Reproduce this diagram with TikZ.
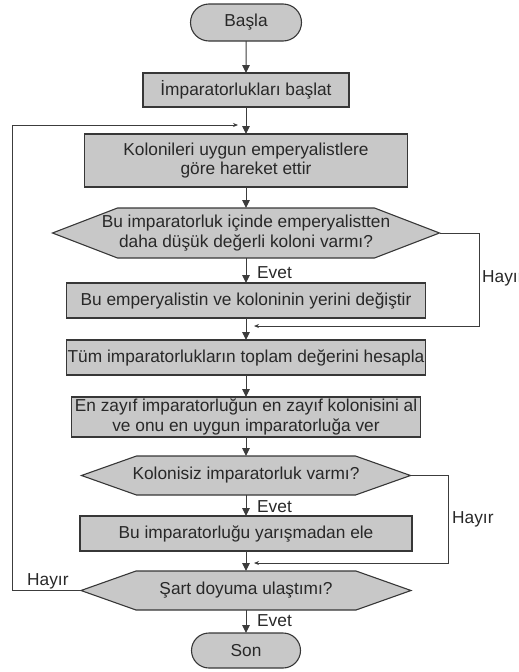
\documentclass[tikz,border=0pt]{standalone}
\usepackage{fontspec}
\setmainfont{Liberation Sans}
\usetikzlibrary{shapes.misc,arrows.meta,backgrounds}
\definecolor{boxfill}{RGB}{200,200,200}
\definecolor{edge}{RGB}{55,55,55}
\definecolor{ink}{RGB}{40,40,40}
\definecolor{wire}{RGB}{60,60,60}
\begin{document}
\begin{tikzpicture}[x=1pt,y=-1pt,
  every node/.style={font=\fontsize{17.3}{19.5}\selectfont, text=ink},
  box/.style={draw=edge, fill=boxfill, line width=1.1pt, inner sep=1pt, align=center, outer sep=0pt},
  term/.style={rounded rectangle, draw=edge, fill=boxfill, line width=1.1pt, inner sep=1pt, outer sep=0pt},
  hexnode/.style={inner sep=1pt, align=center, outer sep=0pt},
  hexshape/.style={draw=edge, fill=boxfill, line width=1.1pt},
  flow/.style={draw=wire, line width=1pt, -{Triangle[length=8pt,width=7.5pt]}},
  back/.style={draw=wire, line width=1pt, -{Stealth[length=5pt,width=4pt]}},
  lbl/.style={anchor=west, inner sep=0pt}
]
\useasboundingbox (0,0) rectangle (519,672);

\node[term, minimum width=113pt, minimum height=37pt] (start) at (246,22.5) {Başla};
\node[box, minimum width=206pt, minimum height=34pt] (b1) at (246,90) {İmparatorlukları başlat};
\node[box, minimum width=323pt, minimum height=53pt] (b2) at (246,160.5) {Kolonileri uygun emperyalistlere\\göre hareket ettir};
\node[hexnode, minimum width=387pt, minimum height=50pt] (d1) at (246,233) {Bu imparatorluk içinde emperyalistten\\daha düşük değerli koloni varmı?};
\node[box, minimum width=359pt, minimum height=35pt] (b3) at (246,300.5) {Bu emperyalistin ve koloninin yerini değiştir};
\node[box, minimum width=358pt, minimum height=35pt] (b4) at (246,357.5) {Tüm imparatorlukların toplam değerini hesapla};
\node[box, minimum width=349pt, minimum height=40pt] (b5) at (246,417) {En zayıf imparatorluğun en zayıf kolonisini al\\ve onu en uygun imparatorluğa ver};
\node[hexnode, minimum width=329pt, minimum height=39pt] (d2) at (246,475.5) {Kolonisiz imparatorluk varmı?};
\node[box, minimum width=332pt, minimum height=35pt] (b6) at (246,533.5) {Bu imparatorluğu yarışmadan ele};
\node[hexnode, minimum width=330pt, minimum height=39pt] (d3) at (246,590.5) {Şart doyuma ulaştımı?};
\node[term, minimum width=111pt, minimum height=35pt] (end) at (246,650.5) {Son};

\begin{scope}[on background layer]
\foreach \n/\c in {d1/65pt, d2/55pt, d3/55pt}
  \draw[hexshape] (\n.west) -- ([xshift=\c]\n.north west) -- ([xshift=-\c]\n.north east) -- (\n.east) -- ([xshift=-\c]\n.south east) -- ([xshift=\c]\n.south west) -- cycle;
\end{scope}

\coordinate (m1) at (254,326);
\coordinate (m2) at (254,563);
\coordinate (m3) at (238,125);

\draw[flow] (start) -- (b1);
\draw[flow] (b1) -- (b2);
\draw[flow] (b2) -- (d1);
\draw[flow] (d1) -- (b3);
\draw[flow] (b3) -- (b4);
\draw[flow] (b4) -- (b5);
\draw[flow] (b5) -- (d2);
\draw[flow] (d2) -- (b6);
\draw[flow] (b6) -- (d3);
\draw[flow] (d3) -- (end);

\draw[back] (d1.east) -- ++(40,0) |- (m1);
\draw[back] (d2.east) -- ++(38,0) |- (m2);
\draw[back] (d3.west) -- ++(-69,0) |- (m3);

\node[lbl] (e1) at (257,273) {Evet};
\node[lbl] (e2) at (257,507) {Evet};
\node[lbl] (e3) at (257,621) {Evet};
\node[lbl] (h1) at (482,278) {Hayır};
\node[lbl] (h2) at (452,519) {Hayır};
\node[lbl] (h3) at (27,581) {Hayır};
\end{tikzpicture}
\end{document}
